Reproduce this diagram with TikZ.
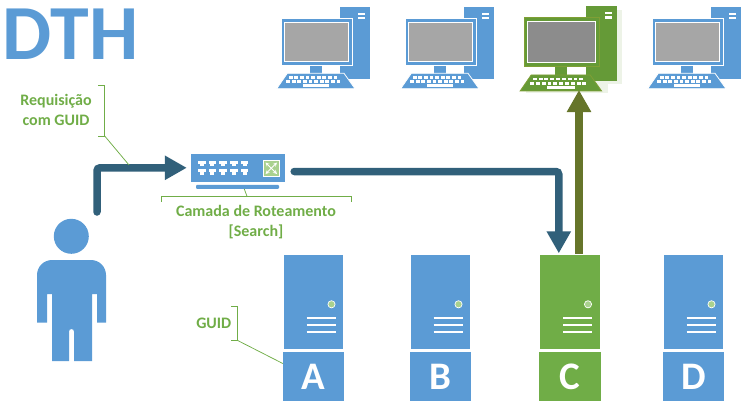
\documentclass[tikz,border=0pt]{standalone}
\usepackage{fontspec}
\setmainfont{Carlito}
\usepackage{xcolor}
\usetikzlibrary{calc,arrows.meta}
\definecolor{azul}{HTML}{5B9BD5}
\definecolor{verde}{HTML}{70AD47}
\definecolor{verdepc}{HTML}{659A37}
\definecolor{bordapc}{HTML}{7F9F35}
\definecolor{sombra}{HTML}{EDF3E7}
\definecolor{claro}{HTML}{A9D18E}
\definecolor{fluxo}{HTML}{31607A}
\definecolor{oliva}{HTML}{66752A}
\definecolor{tela}{HTML}{A6A6A6}
\definecolor{telaesc}{HTML}{8C8C8C}
\tikzset{
  towerbox/.style={inner sep=0pt, minimum width=59pt, minimum height=94pt},
  letterbox/.style={inner sep=0pt, minimum width=61pt, minimum height=49pt, text=white, font=\fontsize{39}{39}\selectfont\bfseries},
  greenLabel/.style={text=verde, align=center, font=\fontsize{16}{20}\selectfont\bfseries},
  bracket/.style={draw=verde, line width=0.75pt},
  callout/.style={draw=verde, line width=0.75pt},
  flow/.style={draw=fluxo, line width=7.5pt, line cap=round, rounded corners=3pt, -{Triangle[length=22pt,width=23pt]}},
  flowUp/.style={draw=oliva, line width=8pt, -{Triangle[length=22pt,width=23pt]}}
}
% x, y, scale, fill, edge, screen
\newcommand{\pcunit}[6]{
  \begin{scope}[shift={(#1,#2)}, scale=#3]
    \fill[#4] (70,7) rectangle (100,79);
    \fill[white] (88.3,12.7) rectangle (95,15);
    \fill[white] (88.3,16.7) rectangle (95,19.3);
    \fill[#4] (40,64) rectangle (52,75);
    \draw[#5, fill=#4, line width=0.8pt] (11,18) rectangle (82.5,65);
    \draw[white, fill=#6, line width=0.8pt] (14,22.3) rectangle (78.7,61.7);
    \draw[#5, fill=#4, line width=0.8pt] (17.3,73.3) -- (74,73.3) -- (85,88.7) -- (6.7,88.7) -- cycle;
    \foreach \k in {0,...,8}
      \fill[white] ({18.8+\k*5.6},76.3) rectangle ++(3.8,2.2);
    \foreach \k in {0,...,9}
      \fill[white] ({16.2+\k*5.6},80.3) rectangle ++(3.8,2.4);
    \fill[white] (32.7,84) rectangle (59,86.6);
  \end{scope}
}
% x, name, colour, width
\newcommand{\serverunit}[4]{
  \node[towerbox, fill=#3, minimum width=#4pt] (tower#2) at (#1,302) {};
  \node[letterbox, fill=#3, minimum width=#4pt+2pt] (box#2) at (#1,376.5) {#2};
  \draw[white, fill=claro, line width=0.7pt] ($(tower#2.center)+(18,2.3)$) circle (3.6pt);
  \foreach \ly in {16,22.7,30.3}
    \draw[white, line width=1.7pt] ($(tower#2.center)+(-6.8,\ly)$) -- ++(29,0);
}

\begin{document}
\begin{tikzpicture}[x=1pt, y=-1pt]
  \useasboundingbox (0,0) rectangle (747,407);

  % title
  \node[text=azul, font=\fontsize{78}{78}\selectfont\bfseries, inner sep=0pt] (title) at (70.5,34) {DTH};

  % computers
  \pcunit{270}{0}{1}{azul}{white}{tela}
  \pcunit{394}{0}{1}{azul}{white}{tela}
  \fill[sombra] (590,10) rectangle (622,84);
  \fill[sombra] (526,82) rectangle (608,93);
  \pcunit{513.2}{-1.3}{1.04}{verdepc}{bordapc}{telaesc}
  \pcunit{641}{0}{1}{azul}{white}{tela}

  % user
  \fill[azul] (71.3,236.3) circle (17.5pt);
  \fill[azul] (37,322.7) -- (37,275) arc[start angle=180, end angle=90, radius=15pt]
    -- (91,260) arc[start angle=90, end angle=0, radius=15pt]
    -- (106,322.7) -- (97,322.7) -- (97,294) -- (92,294) -- (92,361) -- (74,361) -- (74,331.5)
    arc[start angle=0, end angle=180, radius=2.5pt]
    -- (69,361) -- (52,361) -- (52,294) -- (47,294) -- (47,322.7) -- cycle;
  \coordinate (userTop) at (97,212);

  % router
  \node[fill=azul, inner sep=0pt, minimum width=94pt, minimum height=27.7pt] (router) at (238,167.8) {};
  \node[fill=azul, inner sep=0pt, minimum width=83pt, minimum height=4pt, rounded corners=1pt] (routerBase) at (237.5,186.8) {};
  \foreach \px in {201.7,212.4,223.1,233.8,244.5}
    \foreach \py in {163.3,171.7} {
      \fill[white] (\px-3.8,\py-2.6) rectangle (\px+3.8,\py+0.6);
      \fill[white] (\px-2,\py+0.6) rectangle (\px+2,\py+2.8);
    }
  \node[draw=white, fill=claro, line width=0.8pt, inner sep=0pt, minimum size=16.5pt] (routerIcon) at (271.3,168.3) {};
  \draw[white, line width=0.8pt, <->, >=stealth] (265.5,162.5) -- (277,174);
  \draw[white, line width=0.8pt, <->, >=stealth] (265.5,174) -- (277,162.5);

  % servers
  \serverunit{313.5}{A}{azul}{59}
  \serverunit{440.5}{B}{azul}{59}
  \serverunit{570}{C}{verde}{60}
  \serverunit{693.5}{D}{azul}{59}

  % arrows
  \coordinate (pcBase) at (579,90);
  \draw[flow, shorten >=4pt] (userTop) |- (router.west);
  \draw[flow, shorten <=9pt, shorten >=1.5pt] ([yshift=-3.7pt]router.east) -| ([xshift=-11.2pt]towerC.north);
  \draw[flowUp, shorten <=1pt] ([xshift=9pt]towerC.north) -- (pcBase);

  % labels
  \node[greenLabel, inner sep=0pt] (reqLabel) at (56,110) {Requisição\\com GUID};
  \node[greenLabel, inner sep=0pt] (routeLabel) at (256,222) {Camada de Roteamento\\{}[Search]};
  \node[greenLabel, inner sep=0pt] (guidLabel) at (213.8,323) {GUID};

  % brackets
  \draw[bracket] (98,85.3) -- (104.7,85.3) -- (104.7,136) -- (98,136);
  \draw[bracket] (161.3,201.7) -- (161.3,196.3) -- (351.7,196.3) -- (351.7,201.7);
  \draw[bracket] (231,306.3) -- (237.3,306.3) -- (237.3,340.3) -- (231,340.3);
  \coordinate (reqTip) at (104.7,136);
  \coordinate (reqEnd) at (129,165);
  \coordinate (routeTip) at (247,196.3);
  \coordinate (guidTip) at (237.3,340.3);
  \draw[callout] (reqTip) -- (reqEnd);
  \draw[callout] (routeTip) -- ([xshift=6.8pt]routerBase.south);
  \draw[callout] (guidTip) -- ([yshift=13pt]boxA.west);
\end{tikzpicture}
\end{document}
